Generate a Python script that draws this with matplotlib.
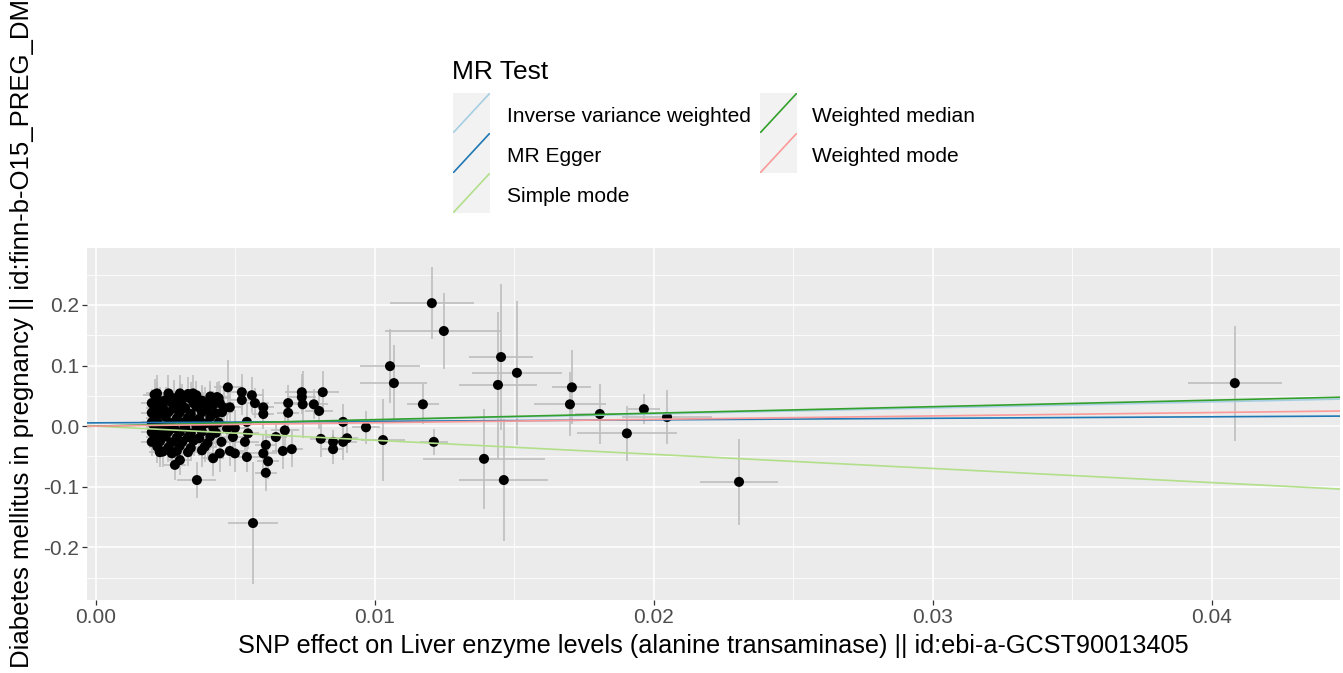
import matplotlib
matplotlib.use('Agg')
import matplotlib.pyplot as plt
from matplotlib.ticker import MultipleLocator

plt.rcParams['font.family'] = ['Liberation Sans', 'DejaVu Sans']

# SNP effects on exposure (bx) and outcome (by) with standard errors
bx = [
    # dense cluster
    0.0021, 0.0026, 0.0030, 0.0033, 0.0036, 0.0041,
    0.0022, 0.0025, 0.0028, 0.0031, 0.0034, 0.0038, 0.0044,
    0.0020, 0.0023, 0.0027, 0.0030, 0.0035, 0.0039, 0.0042,
    0.0021, 0.0024, 0.0028, 0.0032, 0.0036, 0.0040, 0.0046,
    0.0020, 0.0023, 0.0026, 0.0030, 0.0034, 0.0038, 0.0043,
    0.0021, 0.0025, 0.0029, 0.0033, 0.0037, 0.0041,
    0.0020, 0.0022, 0.0027, 0.0031, 0.0035, 0.0039, 0.0044,
    0.0021, 0.0024, 0.0028, 0.0032, 0.0036, 0.0042, 0.0047,
    0.0020, 0.0023, 0.0026, 0.0030, 0.0034, 0.0038, 0.0043,
    0.0021, 0.0025, 0.0029, 0.0033, 0.0037, 0.0041,
    0.0020, 0.0023, 0.0027, 0.0031, 0.0035, 0.0040, 0.0045,
    0.0022, 0.0026, 0.0030, 0.0034, 0.0039,
    0.0024, 0.0029, 0.0033, 0.0038,
    # edge of cluster
    0.00473, 0.00523, 0.00523, 0.00559, 0.00570, 0.00600, 0.00600, 0.00689,
    0.00689, 0.00738, 0.00738, 0.00741, 0.00781, 0.00800, 0.00813, 0.00806,
    0.00850, 0.00850, 0.00886, 0.00900, 0.00886, 0.00968, 0.01029, 0.00645,
    0.00677, 0.00670, 0.00702, 0.00609, 0.00600, 0.00617, 0.00609, 0.00541,
    0.00498, 0.00480, 0.00420, 0.00444, 0.00362, 0.00283, 0.00301, 0.00272,
    0.00229, 0.00563, 0.00534, 0.00545, 0.00541, 0.00491, 0.00498, 0.00452,
    0.00444, 0.00480, 0.00434, 0.00409, 0.00380, 0.00348, 0.00301, 0.00219,
    # larger effects
    0.01054, 0.01068, 0.01172, 0.01204, 0.01247, 0.01211, 0.01391, 0.01441,
    0.01452, 0.01462, 0.01509, 0.01706, 0.01699, 0.01806, 0.01903, 0.01964,
    0.02047, 0.02305, 0.04082,
]
by = [
    0.052, 0.054, 0.050, 0.053, 0.051, 0.049,
    0.045, 0.043, 0.046, 0.044, 0.045, 0.042, 0.046,
    0.038, 0.037, 0.039, 0.036, 0.038, 0.037, 0.035,
    0.030, 0.031, 0.029, 0.030, 0.032, 0.028, 0.030,
    0.022, 0.021, 0.023, 0.022, 0.020, 0.023, 0.021,
    0.014, 0.015, 0.013, 0.014, 0.012, 0.015,
    0.006, 0.007, 0.005, 0.006, 0.008, 0.004, 0.006,
    -0.002, -0.001, -0.003, -0.002, 0.000, -0.002, -0.004,
    -0.010, -0.011, -0.009, -0.010, -0.012, -0.009, -0.011,
    -0.018, -0.017, -0.019, -0.018, -0.020, -0.017,
    -0.026, -0.025, -0.027, -0.026, -0.024, -0.028, -0.026,
    -0.034, -0.035, -0.033, -0.036, -0.034,
    -0.042, -0.041, -0.043, -0.040,
    0.064, 0.056, 0.043, 0.051, 0.038, 0.031, 0.020, 0.038,
    0.022, 0.056, 0.048, 0.036, 0.036, 0.025, 0.056, -0.021,
    -0.026, -0.038, -0.026, -0.020, 0.007, -0.002, -0.023, -0.018,
    -0.007, -0.041, -0.038, -0.031, -0.045, -0.058, -0.077, -0.051,
    -0.045, -0.041, -0.053, -0.045, -0.089, -0.064, -0.056, -0.045,
    -0.043, -0.160, -0.026, -0.012, 0.007, -0.018, -0.003, 0.023,
    0.038, 0.031, 0.048, 0.043, 0.038, 0.054, 0.054, 0.054,
    0.099, 0.071, 0.036, 0.203, 0.157, -0.026, -0.054, 0.068,
    0.114, -0.089, 0.088, 0.064, 0.036, 0.020, -0.012, 0.028,
    0.015, -0.092, 0.071,
]
bx_se = [
    0.0004, 0.0003, 0.0005, 0.0004, 0.0003, 0.0004,
    0.0003, 0.0004, 0.0003, 0.0005, 0.0004, 0.0003, 0.0004,
    0.0004, 0.0003, 0.0004, 0.0003, 0.0005, 0.0004, 0.0003,
    0.0003, 0.0004, 0.0005, 0.0003, 0.0004, 0.0003, 0.0004,
    0.0004, 0.0003, 0.0004, 0.0004, 0.0003, 0.0005, 0.0004,
    0.0003, 0.0004, 0.0003, 0.0004, 0.0003, 0.0004,
    0.0004, 0.0003, 0.0004, 0.0005, 0.0003, 0.0004, 0.0003,
    0.0003, 0.0004, 0.0003, 0.0004, 0.0004, 0.0003, 0.0004,
    0.0004, 0.0003, 0.0004, 0.0003, 0.0005, 0.0004, 0.0003,
    0.0003, 0.0004, 0.0003, 0.0004, 0.0003, 0.0004,
    0.0004, 0.0003, 0.0004, 0.0003, 0.0004, 0.0003, 0.0004,
    0.0003, 0.0004, 0.0004, 0.0003, 0.0004,
    0.0004, 0.0003, 0.0004, 0.0003,
    0.0005, 0.0004, 0.0004, 0.0004, 0.0005, 0.0004, 0.0004, 0.0005,
    0.0004, 0.0006, 0.0005, 0.0005, 0.0005, 0.0005, 0.0006, 0.0004,
    0.0003, 0.0004, 0.0005, 0.0004, 0.0005, 0.0005, 0.0008, 0.0004,
    0.0005, 0.0004, 0.0004, 0.0004, 0.0005, 0.0004, 0.0004, 0.0005,
    0.0004, 0.0005, 0.0004, 0.0004, 0.0007, 0.0004, 0.0004, 0.0004,
    0.0004, 0.0009, 0.0005, 0.0004, 0.0005, 0.0004, 0.0004, 0.0004,
    0.0005, 0.0004, 0.0004, 0.0004, 0.0004, 0.0004, 0.0004, 0.0004,
    0.00107, 0.0012, 0.00057, 0.0015, 0.0021, 0.0005, 0.0022, 0.0014,
    0.00114, 0.0016, 0.0016, 0.0007, 0.0013, 0.0009, 0.0018, 0.00057,
    0.0016, 0.0014, 0.00168,
]
by_se = [
    0.025, 0.030, 0.022, 0.028, 0.024, 0.026,
    0.028, 0.022, 0.030, 0.025, 0.027, 0.023, 0.029,
    0.024, 0.028, 0.022, 0.030, 0.025, 0.027, 0.023,
    0.026, 0.023, 0.029, 0.024, 0.028, 0.022, 0.030,
    0.023, 0.027, 0.025, 0.030, 0.022, 0.026, 0.028,
    0.028, 0.022, 0.026, 0.024, 0.030, 0.023,
    0.025, 0.029, 0.023, 0.027, 0.024, 0.030, 0.022,
    0.027, 0.024, 0.030, 0.022, 0.026, 0.028, 0.024,
    0.022, 0.028, 0.025, 0.029, 0.023, 0.027, 0.025,
    0.026, 0.023, 0.028, 0.024, 0.030, 0.022,
    0.024, 0.029, 0.022, 0.027, 0.025, 0.028, 0.023,
    0.027, 0.024, 0.030, 0.022, 0.026,
    0.025, 0.028, 0.023, 0.027,
    0.045, 0.030, 0.025, 0.030, 0.025, 0.030, 0.025, 0.030,
    0.025, 0.030, 0.028, 0.055, 0.025, 0.030, 0.035, 0.030,
    0.020, 0.025, 0.030, 0.025, 0.030, 0.027, 0.068, 0.025,
    0.025, 0.030, 0.030, 0.025, 0.030, 0.030, 0.030, 0.025,
    0.030, 0.025, 0.030, 0.030, 0.030, 0.025, 0.025, 0.025,
    0.025, 0.100, 0.030, 0.025, 0.030, 0.025, 0.030, 0.030,
    0.030, 0.025, 0.025, 0.025, 0.030, 0.030, 0.030, 0.030,
    0.061, 0.063, 0.033, 0.059, 0.063, 0.021, 0.082, 0.120,
    0.120, 0.100, 0.119, 0.061, 0.053, 0.050, 0.045, 0.025,
    0.045, 0.071, 0.095,
]

# MR estimates
methods = ['Inverse variance weighted', 'MR Egger', 'Simple mode',
           'Weighted median', 'Weighted mode']
slopes = [1.00, 0.25, -2.33, 1.07, 0.56]
intercepts = [0.0, 0.0054, 0.0, 0.0, 0.0]
colours = ['#A6CEE3', '#1F78B4', '#B2DF8A', '#33A02C', '#FB9A99']

W, H = 1343, 673
fig = plt.figure(figsize=(W / 100, H / 100), dpi=100)
ax = fig.add_axes([87 / W, 1 - 600 / H, (1340 - 87) / W, (600 - 248) / H])
ax.set_facecolor('#EBEBEB')
for s in ax.spines.values():
    s.set_visible(False)

ax.set_xlim(-0.00032, 0.04459)
ax.set_ylim(-0.287, 0.294)
ax.xaxis.set_major_locator(MultipleLocator(0.01))
ax.xaxis.set_minor_locator(MultipleLocator(0.005))
ax.yaxis.set_major_locator(MultipleLocator(0.1))
ax.yaxis.set_minor_locator(MultipleLocator(0.05))
ax.grid(which='major', color='white', lw=1.1)
ax.grid(which='minor', color='white', lw=0.55)
ax.set_axisbelow(True)
ax.tick_params(which='major', length=3.5, width=0.9, color='#333333',
               labelsize=15, labelcolor='#4D4D4D', pad=2)
ax.tick_params(which='minor', length=0)
ax.set_xticks([0, 0.01, 0.02, 0.03, 0.04])
ax.set_xticklabels(['0.00', '0.01', '0.02', '0.03', '0.04'])
ax.set_yticks([-0.2, -0.1, 0.0, 0.1, 0.2])
ax.set_yticklabels(['-0.2', '-0.1', '0.0', '0.1', '0.2'])

ax.errorbar(bx, by, xerr=bx_se, yerr=by_se, fmt='none', ecolor='#BEBEBE',
            elinewidth=1.2, capsize=0, zorder=2)
ax.scatter(bx, by, s=52, color='black', edgecolors='none', zorder=3)
for m, b, a, c in zip(methods, slopes, intercepts, colours):
    ax.axline((0, a), slope=b, color=c, lw=1.2, zorder=4)

ax.set_xlabel('SNP effect on Liver enzyme levels (alanine transaminase) || id:ebi-a-GCST90013405',
              fontsize=18.2, labelpad=5)
fig.text(22 / W, 5 / H, 'Diabetes mellitus in pregnancy || id:finn-b-O15_PREG_DM',
         rotation=90, ha='center', va='bottom', fontsize=18.5)

# legend drawn by hand in ggplot style (abline keys)
fig.text(452 / W, 1 - 72 / H, 'MR Test', fontsize=19, va='center', ha='left')
key_x = [453, 760]
text_x = [507, 812]
for i, (m, c) in enumerate(zip(methods, colours)):
    col, row = (0, i) if i < 3 else (1, i - 3)
    top = 93 + row * 40
    kax = fig.add_axes([key_x[col] / W, 1 - (top + 40) / H, 37 / W, 40 / H])
    kax.set_facecolor('#F2F2F2')
    kax.set_xlim(0, 1)
    kax.set_ylim(0, 1)
    kax.set_xticks([])
    kax.set_yticks([])
    for s in kax.spines.values():
        s.set_visible(False)
    kax.plot([0, 1], [0, 1], color=c, lw=1.2)
    fig.text(text_x[col] / W, 1 - (top + 23) / H, m, fontsize=15.1,
             va='center', ha='left')

fig.savefig('out.png', dpi=100)
